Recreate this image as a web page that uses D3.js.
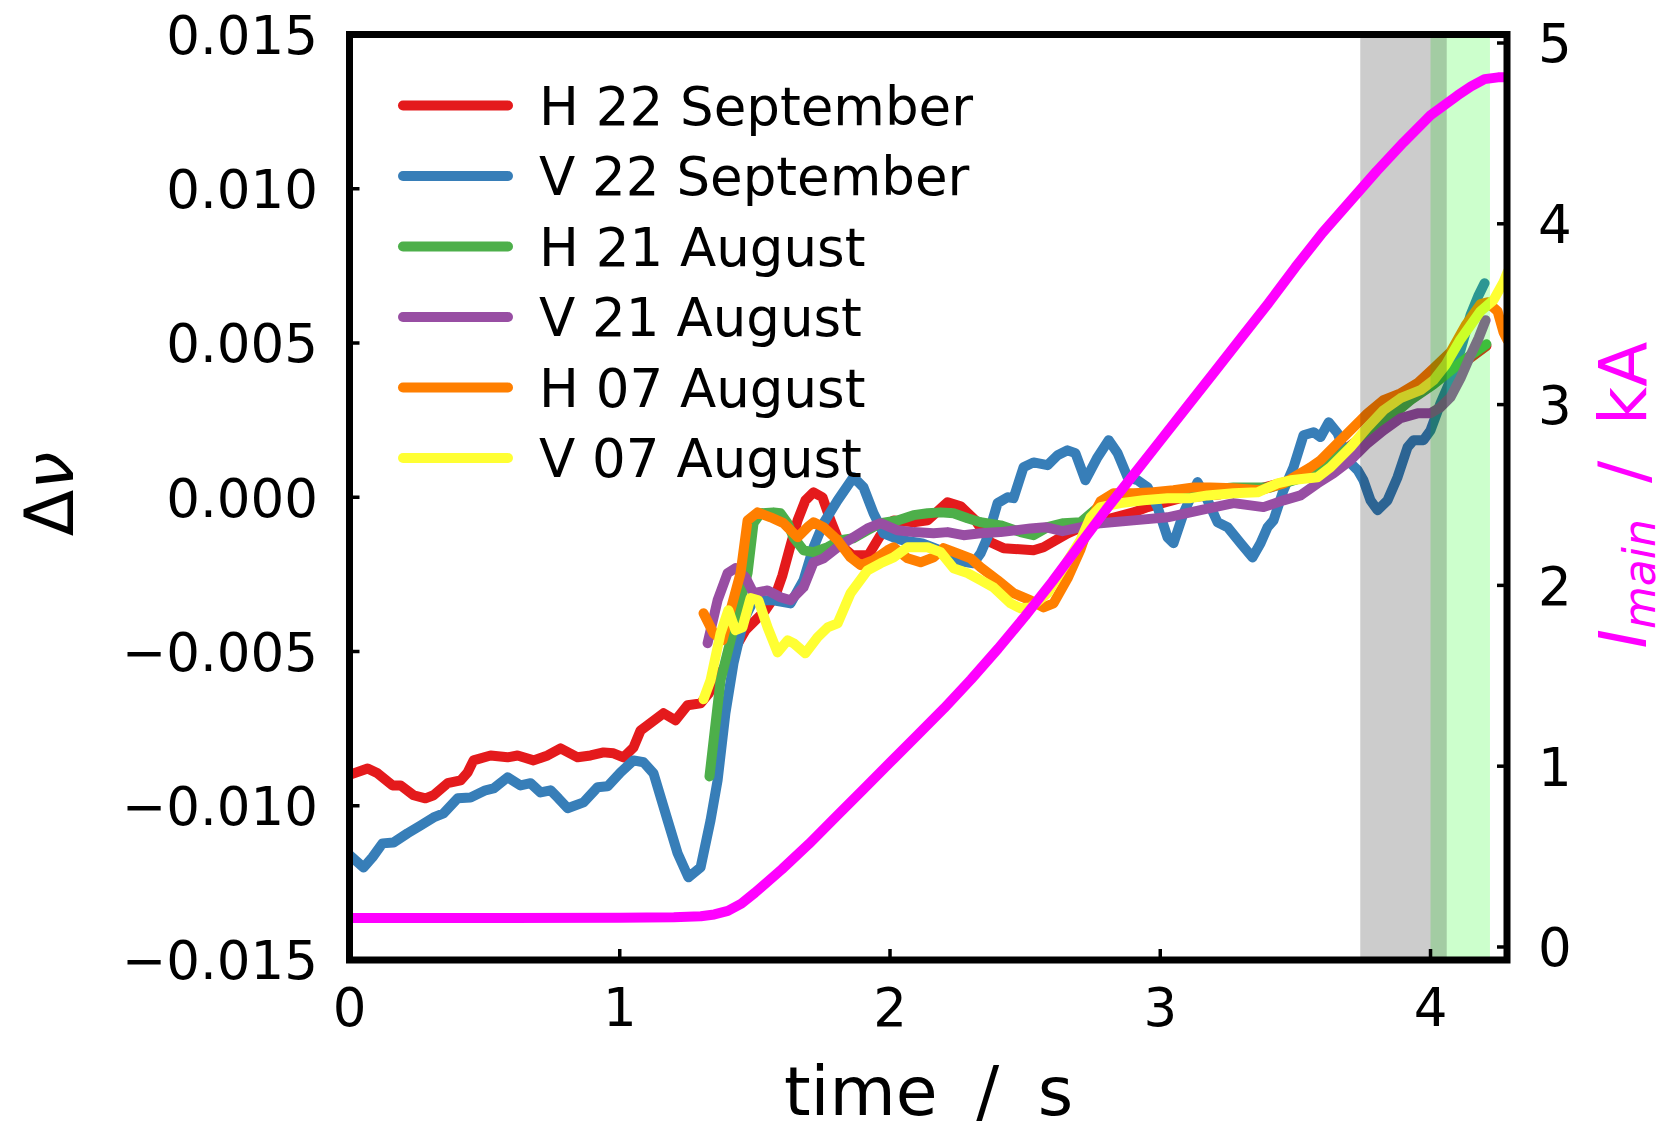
<!DOCTYPE html>
<html>
<head>
<meta charset="utf-8">
<script src="https://cdn.jsdelivr.net/npm/d3@7"></script>
<style>
  body { margin: 0; background: #fff; }
  svg { display: block; font-family: "DejaVu Sans", sans-serif; }
</style>
</head>
<body>
<svg id="chart" width="1660" height="1127"></svg>
<script>
// values: [time / s, delta nu]
const hSep22 = [
  [0, -0.00900], [0.067, -0.00879], [0.104, -0.00895], [0.159, -0.00934], [0.189, -0.00934],
  [0.237, -0.00966], [0.281, -0.00976], [0.311, -0.00966], [0.363, -0.00927], [0.411, -0.00918],
  [0.437, -0.00892], [0.459, -0.00853], [0.522, -0.00837], [0.585, -0.00843], [0.622, -0.00837],
  [0.681, -0.00853], [0.733, -0.00837], [0.781, -0.00814], [0.844, -0.00843], [0.892, -0.00837],
  [0.940, -0.00827], [0.977, -0.00830], [1.014, -0.00843], [1.051, -0.00811], [1.077, -0.00756],
  [1.103, -0.00739], [1.162, -0.00700], [1.206, -0.00723], [1.251, -0.00674], [1.299, -0.00668],
  [1.329, -0.00636], [1.362, -0.00584], [1.391, -0.00545], [1.465, -0.00431], [1.539, -0.00366],
  [1.576, -0.00318], [1.602, -0.00253], [1.632, -0.00156], [1.658, -0.00075], [1.687, -0.00010],
  [1.717, 0.00016], [1.750, 0.00000], [1.780, -0.00075], [1.817, -0.00156], [1.861, -0.00188],
  [1.920, -0.00188], [1.965, -0.00123], [2.013, -0.00075], [2.087, -0.00081], [2.139, -0.00075],
  [2.213, -0.00016], [2.261, -0.00029], [2.316, -0.00075], [2.372, -0.00146], [2.420, -0.00165],
  [2.531, -0.00172], [2.568, -0.00162], [2.657, -0.00117], [2.723, -0.00091], [2.790, -0.00075],
  [2.901, -0.00049], [2.953, -0.00032], [3.075, -0.00003], [3.223, 0.00010], [3.371, 0.00029],
  [3.519, 0.00062], [3.630, 0.00120], [3.741, 0.00191], [3.889, 0.00331], [4.000, 0.00379],
  [4.111, 0.00428], [4.207, 0.00490]
];
const vSep22 = [
  [0, -0.01160], [0.052, -0.01200], [0.085, -0.01167], [0.122, -0.01122], [0.163, -0.01119],
  [0.215, -0.01089], [0.263, -0.01064], [0.311, -0.01038], [0.348, -0.01025], [0.400, -0.00976],
  [0.448, -0.00973], [0.503, -0.00950], [0.533, -0.00944], [0.585, -0.00908], [0.633, -0.00934],
  [0.670, -0.00927], [0.707, -0.00957], [0.744, -0.00950], [0.773, -0.00976], [0.807, -0.01008],
  [0.866, -0.00989], [0.918, -0.00940], [0.955, -0.00937], [1.003, -0.00892], [1.051, -0.00853],
  [1.088, -0.00859], [1.125, -0.00895], [1.177, -0.01047], [1.214, -0.01154], [1.254, -0.01232],
  [1.299, -0.01200], [1.336, -0.01047], [1.362, -0.00918], [1.391, -0.00700], [1.421, -0.00538],
  [1.458, -0.00399], [1.495, -0.00334], [1.569, -0.00334], [1.632, -0.00344], [1.680, -0.00269],
  [1.717, -0.00162], [1.754, -0.00084], [1.806, -0.00010], [1.865, 0.00065], [1.902, 0.00032],
  [1.939, -0.00052], [1.976, -0.00117], [2.013, -0.00130], [2.050, -0.00140], [2.120, -0.00150],
  [2.187, -0.00172], [2.235, -0.00204], [2.309, -0.00214], [2.335, -0.00182], [2.361, -0.00130],
  [2.398, -0.00019], [2.435, 0.00000], [2.457, -0.00003], [2.494, 0.00097], [2.531, 0.00113],
  [2.583, 0.00104], [2.620, 0.00136], [2.657, 0.00152], [2.686, 0.00143], [2.723, 0.00055],
  [2.768, 0.00130], [2.809, 0.00185], [2.842, 0.00143], [2.879, 0.00065], [2.916, 0.00055],
  [2.953, 0.00032], [2.990, -0.00032], [3.027, -0.00130], [3.049, -0.00149], [3.086, -0.00052],
  [3.138, 0.00049], [3.175, -0.00010], [3.212, -0.00081], [3.249, -0.00097], [3.297, -0.00149],
  [3.341, -0.00195], [3.371, -0.00149], [3.397, -0.00097], [3.419, -0.00075], [3.456, 0.00023],
  [3.493, 0.00097], [3.530, 0.00201], [3.567, 0.00211], [3.593, 0.00195], [3.623, 0.00243],
  [3.656, 0.00208], [3.693, 0.00120], [3.730, 0.00088], [3.752, 0.00055], [3.778, -0.00010],
  [3.804, -0.00042], [3.841, -0.00010], [3.878, 0.00065], [3.915, 0.00162], [3.937, 0.00185],
  [3.974, 0.00185], [4.000, 0.00217], [4.037, 0.00305], [4.074, 0.00379], [4.111, 0.00477],
  [4.148, 0.00590], [4.178, 0.00655], [4.200, 0.00694]
];
const hAug21 = [
  [1.332, -0.00905], [1.373, -0.00593], [1.410, -0.00464], [1.473, -0.00246], [1.495, -0.00084],
  [1.521, -0.00052], [1.569, -0.00049], [1.595, -0.00052], [1.621, -0.00084], [1.643, -0.00130],
  [1.680, -0.00172], [1.717, -0.00178], [1.769, -0.00162], [1.817, -0.00139], [1.865, -0.00133],
  [1.917, -0.00107], [1.965, -0.00084], [2.028, -0.00075], [2.087, -0.00058], [2.139, -0.00052],
  [2.187, -0.00049], [2.235, -0.00052], [2.287, -0.00068], [2.335, -0.00081], [2.409, -0.00091],
  [2.483, -0.00113], [2.531, -0.00123], [2.583, -0.00097], [2.642, -0.00084], [2.705, -0.00081],
  [2.779, -0.00026], [2.890, 0.00006], [3.027, 0.00016], [3.149, 0.00023], [3.271, 0.00032],
  [3.408, 0.00032], [3.519, 0.00062], [3.630, 0.00113], [3.741, 0.00191], [3.815, 0.00233],
  [3.926, 0.00315], [4.011, 0.00366], [4.085, 0.00418], [4.148, 0.00460], [4.207, 0.00496]
];
const vAug21 = [
  [1.325, -0.00473], [1.362, -0.00334], [1.399, -0.00246], [1.428, -0.00230], [1.465, -0.00259],
  [1.495, -0.00311], [1.547, -0.00302], [1.595, -0.00324], [1.632, -0.00334], [1.680, -0.00292],
  [1.717, -0.00211], [1.754, -0.00198], [1.806, -0.00162], [1.865, -0.00130], [1.917, -0.00101],
  [1.965, -0.00084], [2.028, -0.00107], [2.087, -0.00113], [2.161, -0.00117], [2.213, -0.00113],
  [2.272, -0.00123], [2.335, -0.00117], [2.409, -0.00113], [2.520, -0.00101], [2.575, -0.00097],
  [2.638, -0.00110], [2.779, -0.00084], [2.901, -0.00075], [3.027, -0.00065], [3.149, -0.00042],
  [3.271, -0.00019], [3.382, -0.00032], [3.456, -0.00010], [3.519, 0.00006], [3.582, 0.00045],
  [3.641, 0.00078], [3.704, 0.00120], [3.767, 0.00175], [3.826, 0.00217], [3.889, 0.00256],
  [3.952, 0.00272], [4.000, 0.00272], [4.037, 0.00292], [4.074, 0.00324], [4.111, 0.00386],
  [4.148, 0.00460], [4.178, 0.00516], [4.204, 0.00574]
];
const hAug07 = [
  [1.310, -0.00376], [1.347, -0.00441], [1.380, -0.00464], [1.410, -0.00366], [1.447, -0.00246],
  [1.473, -0.00075], [1.510, -0.00049], [1.558, -0.00065], [1.606, -0.00084], [1.658, -0.00130],
  [1.695, -0.00097], [1.717, -0.00081], [1.754, -0.00097], [1.806, -0.00139], [1.854, -0.00195],
  [1.891, -0.00220], [1.939, -0.00204], [1.991, -0.00172], [2.013, -0.00162], [2.065, -0.00198],
  [2.113, -0.00211], [2.161, -0.00195], [2.198, -0.00165], [2.250, -0.00182], [2.298, -0.00198],
  [2.335, -0.00227], [2.398, -0.00269], [2.457, -0.00311], [2.520, -0.00334], [2.568, -0.00357],
  [2.605, -0.00344], [2.657, -0.00263], [2.705, -0.00169], [2.742, -0.00075], [2.779, -0.00013],
  [2.827, 0.00013], [2.901, 0.00013], [2.975, 0.00016], [3.049, 0.00023], [3.123, 0.00032],
  [3.186, 0.00032], [3.271, 0.00029], [3.371, 0.00023], [3.456, 0.00045], [3.556, 0.00097],
  [3.593, 0.00120], [3.641, 0.00162], [3.704, 0.00217], [3.767, 0.00272], [3.826, 0.00315],
  [3.889, 0.00337], [3.952, 0.00370], [4.011, 0.00418], [4.074, 0.00470], [4.130, 0.00558],
  [4.185, 0.00626], [4.211, 0.00632], [4.248, 0.00603], [4.270, 0.00535], [4.285, 0.00509]
];
const vAug07 = [
  [1.310, -0.00655], [1.336, -0.00593], [1.373, -0.00441], [1.402, -0.00366], [1.428, -0.00431],
  [1.454, -0.00422], [1.484, -0.00327], [1.513, -0.00334], [1.547, -0.00422], [1.584, -0.00503],
  [1.621, -0.00464], [1.643, -0.00473], [1.687, -0.00506], [1.732, -0.00454], [1.769, -0.00422],
  [1.806, -0.00409], [1.854, -0.00311], [1.917, -0.00237], [1.965, -0.00214], [2.013, -0.00195],
  [2.065, -0.00162], [2.139, -0.00162], [2.187, -0.00178], [2.235, -0.00230], [2.287, -0.00246],
  [2.335, -0.00269], [2.383, -0.00292], [2.446, -0.00344], [2.483, -0.00360], [2.520, -0.00357],
  [2.583, -0.00311], [2.642, -0.00227], [2.705, -0.00139], [2.742, -0.00065], [2.779, -0.00032],
  [2.853, -0.00019], [2.938, -0.00010], [3.027, -0.00003], [3.112, -0.00003], [3.175, 0.00006],
  [3.271, 0.00013], [3.360, 0.00016], [3.434, 0.00045], [3.482, 0.00055], [3.582, 0.00065],
  [3.630, 0.00097], [3.704, 0.00162], [3.767, 0.00227], [3.826, 0.00282], [3.889, 0.00321],
  [3.963, 0.00347], [4.011, 0.00379], [4.055, 0.00428], [4.111, 0.00512], [4.185, 0.00603],
  [4.233, 0.00639], [4.270, 0.00697], [4.285, 0.00730]
];
// main coil current: [time / s, I_main / kA]
const iMain = [
  [0, 0.16], [0.5, 0.16], [1.0, 0.162], [1.2, 0.165], [1.3, 0.17], [1.35, 0.18], [1.4, 0.20],
  [1.45, 0.24], [1.5, 0.30], [1.6, 0.43], [1.7, 0.57], [1.8, 0.72], [1.9, 0.87], [2.0, 1.02],
  [2.1, 1.17], [2.2, 1.32], [2.3, 1.48], [2.4, 1.65], [2.5, 1.83], [2.6, 2.02], [2.7, 2.22],
  [2.8, 2.42], [2.9, 2.61], [3.0, 2.80], [3.1, 2.99], [3.2, 3.18], [3.3, 3.37], [3.4, 3.56],
  [3.5, 3.76], [3.6, 3.95], [3.7, 4.12], [3.8, 4.29], [3.9, 4.45], [4.0, 4.60], [4.1, 4.71],
  [4.15, 4.76], [4.2, 4.80], [4.25, 4.81], [4.29, 4.81]
];
const seriesLabels = ['H 22 September', 'V 22 September', 'H 21 August', 'V 21 August', 'H 07 August', 'V 07 August'];
const xTicks = [0, 1, 2, 3, 4];
const yTicks = [-0.015, -0.01, -0.005, 0, 0.005, 0.01, 0.015];
const iTicks = [0, 1, 2, 3, 4, 5];
const greySpan = [3.74, 4.06];
const greenSpan = [4.00, 4.22];

const series = [hSep22, vSep22, hAug21, vAug21, hAug07, vAug07];
const colors = ['#e41a1c', '#377eb8', '#4daf4a', '#984ea3', '#ff7f00', '#ffff33'];

const box = { left: 349.5, right: 1507, top: 34.5, bottom: 960 };
const fs = 53, capH = 0.729 * fs;
const lw = 10;

const x = d3.scaleLinear().domain([0, 4.283]).range([box.left, box.right]);
const y = d3.scaleLinear().domain([-0.015, 0.015]).range([box.bottom, box.top]);
const yI = d3.scaleLinear().domain([-0.072, 5.047]).range([box.bottom, box.top]);

const svg = d3.select('#chart');
svg.append('rect').attr('width', 1660).attr('height', 1127).attr('fill', '#fff');

svg.append('clipPath').attr('id', 'plotclip')
  .append('rect')
  .attr('x', box.left).attr('y', box.top)
  .attr('width', box.right - box.left).attr('height', box.bottom - box.top);

const plot = svg.append('g').attr('clip-path', 'url(#plotclip)');

const line = d3.line().x(d => x(d[0])).y(d => y(d[1]));
series.forEach((s, i) => {
  plot.append('path')
    .attr('d', line(s))
    .attr('fill', 'none')
    .attr('stroke', colors[i])
    .attr('stroke-width', lw)
    .attr('stroke-linejoin', 'round')
    .attr('stroke-linecap', 'round');
});

// shaded windows sit above the data lines
plot.append('rect')
  .attr('x', x(greenSpan[0])).attr('width', x(greenSpan[1]) - x(greenSpan[0]))
  .attr('y', box.top).attr('height', box.bottom - box.top)
  .attr('fill', '#00ff00').attr('fill-opacity', 0.2);
plot.append('rect')
  .attr('x', x(greySpan[0])).attr('width', x(greySpan[1]) - x(greySpan[0]))
  .attr('y', box.top).attr('height', box.bottom - box.top)
  .attr('fill', '#000').attr('fill-opacity', 0.2);

// legend
const legend = svg.append('g');
seriesLabels.forEach((lab, i) => {
  const ly = 105.5 + i * 70.5;
  legend.append('line')
    .attr('x1', 403).attr('x2', 508).attr('y1', ly).attr('y2', ly)
    .attr('stroke', colors[i]).attr('stroke-width', lw).attr('stroke-linecap', 'round');
  legend.append('text')
    .attr('x', 539).attr('y', ly + capH / 2)
    .attr('font-size', fs).attr('fill', '#000')
    .text(lab);
});

// current on the twin axis
const lineI = d3.line().x(d => x(d[0])).y(d => yI(d[1]));
plot.append('path')
  .attr('d', lineI(iMain))
  .attr('fill', 'none')
  .attr('stroke', '#ff00ff')
  .attr('stroke-width', lw)
  .attr('stroke-linejoin', 'round');

// frame
svg.append('rect')
  .attr('x', box.left).attr('y', box.top)
  .attr('width', box.right - box.left).attr('height', box.bottom - box.top)
  .attr('fill', 'none').attr('stroke', '#000').attr('stroke-width', 7);

const ticks = svg.append('g').attr('stroke', '#000').attr('stroke-width', 3.5);
yTicks.forEach(v => ticks.append('line')
  .attr('x1', box.left).attr('x2', box.left + 10).attr('y1', y(v)).attr('y2', y(v)));
xTicks.forEach(v => ticks.append('line')
  .attr('x1', x(v)).attr('x2', x(v)).attr('y1', box.bottom).attr('y2', box.bottom - 11));
iTicks.forEach(v => ticks.append('line')
  .attr('x1', box.right).attr('x2', box.right - 10).attr('y1', yI(v)).attr('y2', yI(v)));

const fmtY = d3.format('.3f');
const labels = svg.append('g').attr('font-size', fs).attr('fill', '#000');
yTicks.forEach(v => labels.append('text')
  .attr('x', 318).attr('y', y(v) + capH / 2)
  .attr('text-anchor', 'end').text(fmtY(v)));
xTicks.forEach(v => labels.append('text')
  .attr('x', x(v)).attr('y', 1026)
  .attr('text-anchor', 'middle').text(v));
iTicks.forEach(v => labels.append('text')
  .attr('x', 1538).attr('y', yI(v) + capH / 2)
  .attr('text-anchor', 'start').text(v));

// axis titles
svg.append('text')
  .attr('x', 928.5).attr('y', 1115)
  .attr('text-anchor', 'middle')
  .attr('font-size', 68).attr('word-spacing', 17)
  .text('time / s');

const yl = svg.append('text')
  .attr('transform', 'translate(73,494) rotate(-90)')
  .attr('text-anchor', 'middle')
  .attr('font-size', 68);
yl.append('tspan').text('Δ');
yl.append('tspan').attr('font-style', 'italic').text('ν');

const rl = svg.append('text')
  .attr('transform', 'translate(1646,495) rotate(-90)')
  .attr('text-anchor', 'middle')
  .attr('font-size', 66)
  .attr('fill', '#ff00ff')
  .attr('word-spacing', 15);
rl.append('tspan').attr('font-style', 'italic').text('I');
rl.append('tspan').attr('font-style', 'italic').attr('font-size', 44).attr('dy', 9).text('main');
rl.append('tspan').attr('dy', -9).text(' / kA');
</script>
</body>
</html>
